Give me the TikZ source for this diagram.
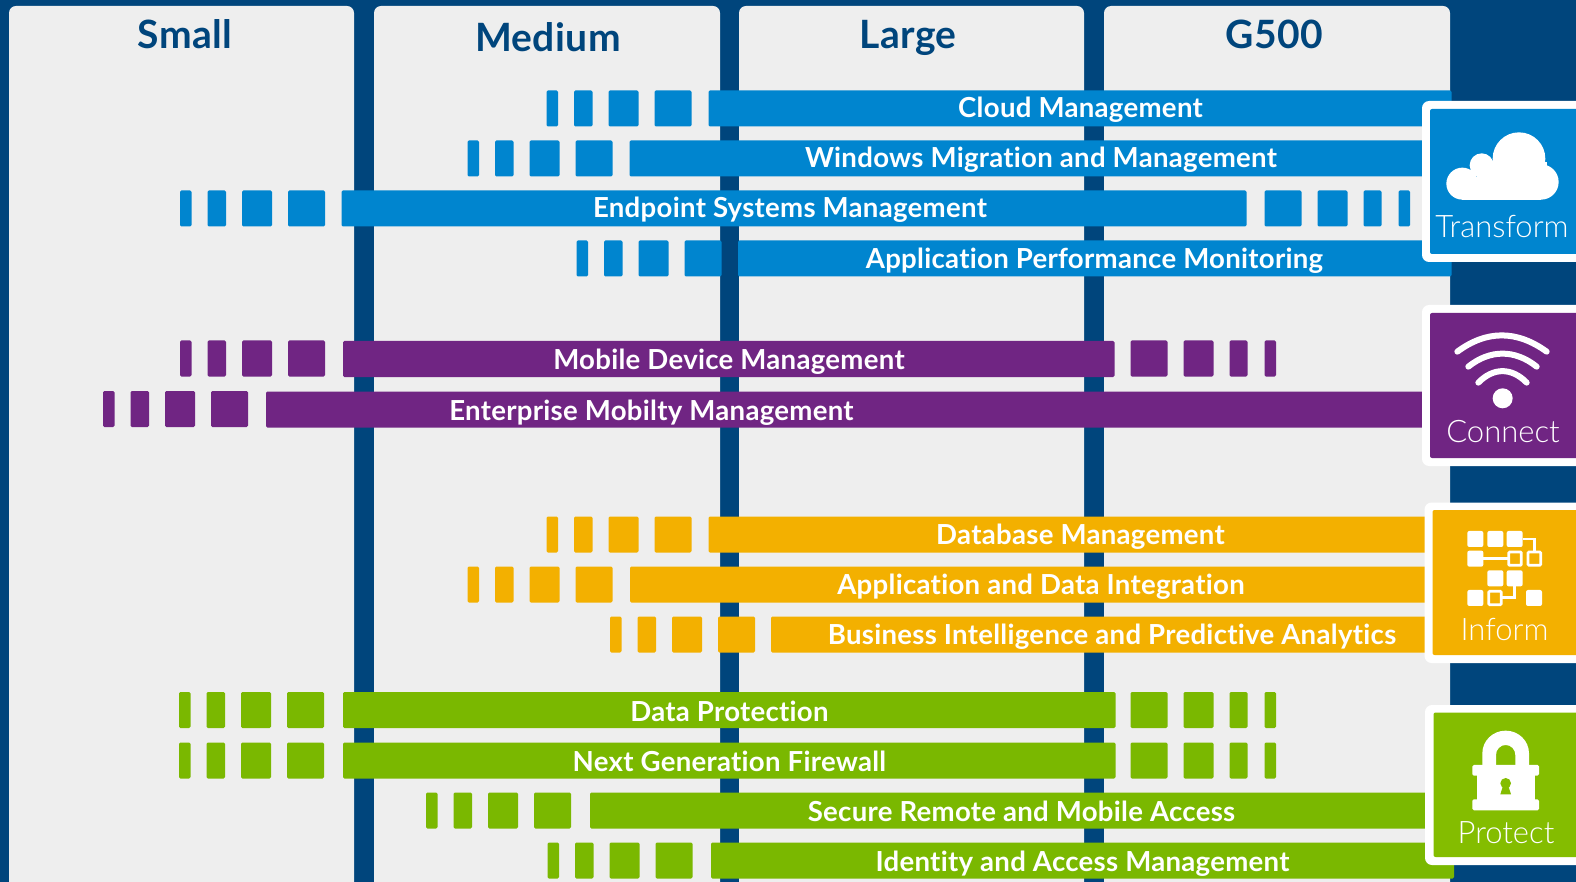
\documentclass[tikz,border=0pt]{standalone}
\usepackage{fontspec}
\setmainfont{Lato}[LetterSpace=1.0,Ligatures=NoCommon]
\newfontfamily\lightfont{Lato Light}
\definecolor{navy}{HTML}{00457C}
\definecolor{panel}{HTML}{EEEEEE}
\definecolor{cblue}{HTML}{0085CF}
\definecolor{cpurple}{HTML}{702583}
\definecolor{cyellow}{HTML}{F3B000}
\definecolor{cgreen}{HTML}{7AB800}
\definecolor{cgreenb}{HTML}{84BD00}
\tikzset{
  panelbox/.style={fill=panel,rounded corners=7pt},
  seg/.style={rounded corners=1.3pt},
  barlabel/.style={anchor=base,text=white,font=\fontsize{27.6}{30}\selectfont\bfseries,inner sep=0pt},
  headlabel/.style={anchor=base,text=navy,font=\fontsize{39}{42}\selectfont\bfseries,inner sep=0pt},
  iconlabel/.style={anchor=base,text=white,font=\fontsize{31}{34}\lightfont,inner sep=0pt},
  whitebox/.style={fill=white,rounded corners=7pt},
  iconbox/.style={rounded corners=2pt},
  wire/.style={draw=white,line width=2.7pt},
  hollow/.style={draw=white,line width=2.7pt,rounded corners=1pt},
  solidsq/.style={fill=white,rounded corners=2pt},
}
% left ladder: start x, top y, colour
\newcommand{\ladderL}[3]{%
  \foreach \a/\b in {0/11.5,27.5/46,62/92,108/145}
    \fill[seg,#3] ({#1+\a},#2) rectangle ({#1+\b},{#2+36});}
% right ladder: start x, top y, colour
\newcommand{\ladderR}[3]{%
  \foreach \a/\b in {0/37,53/83,99/117,134/145.5}
    \fill[seg,#3] ({#1+\a},#2) rectangle ({#1+\b},{#2+36});}
% bar: left, right, top, colour, label centre, label, name, label baseline offset
\newcommand{\barrow}[8]{%
  \fill[seg,#4] (#1,#3) rectangle (#2,{#3+36});
  \node[barlabel] (#7) at (#5,{#3+#8}) {#6};}
\begin{document}
\begin{tikzpicture}[x=1pt,y=-1pt]
\useasboundingbox (0,0) rectangle (1576,882);
\fill[navy] (0,0) rectangle (1576,882);
% panels
\fill[panelbox] (9,6) rectangle (354,920);
\fill[panelbox] (374,6) rectangle (720,920);
\fill[panelbox] (739,6) rectangle (1084,920);
\fill[panelbox] (1104,6) rectangle (1450,920);
\node[headlabel] (small) at (185,48.5) {Small};
\node[headlabel] (medium) at (548,51.5) {Medium};
\node[headlabel] (large) at (908,49) {Large};
\node[headlabel] (gfive) at (1274,48.5) {G500};
% blue
\ladderL{546.5}{90.5}{cblue}
\barrow{708.5}{1451.5}{90.5}{cblue}{1080.5}{Cloud Management}{cloud}{27.5}
\ladderL{467.5}{140.5}{cblue}
\barrow{629.5}{1440}{140.5}{cblue}{1041}{Windows Migration and Management}{windows}{27.5}
\ladderL{180}{190.5}{cblue}
\barrow{341.5}{1246.5}{190.5}{cblue}{790}{Endpoint Systems Management}{endpoint}{27.5}
\ladderR{1264.5}{190.5}{cblue}
\ladderL{576.5}{240.5}{cblue}
\barrow{738}{1451.5}{240.5}{cblue}{1094.5}{Application Performance Monitoring}{apm}{28}
% purple
\ladderL{180}{340.5}{cpurple}
\barrow{343}{1114.5}{341}{cpurple}{729}{Mobile Device Management}{mdm}{28}
\ladderR{1130.5}{340.5}{cpurple}
\ladderL{103}{391}{cpurple}
\barrow{266}{1440}{391.5}{cpurple}{651.5}{Enterprise Mobilty Management}{emm}{28.5}
% yellow
\ladderL{546.5}{516.5}{cyellow}
\barrow{708.5}{1440}{516.5}{cyellow}{1080.5}{Database Management}{db}{27.5}
\ladderL{467.5}{566.5}{cyellow}
\barrow{630}{1440}{566.5}{cyellow}{1041}{Application and Data Integration}{adi}{28}
\ladderL{610}{616.5}{cyellow}
\barrow{771}{1440}{616.5}{cyellow}{1112}{Business Intelligence and Predictive Analytics}{bi}{28}
% green
\ladderL{179}{692}{cgreen}
\barrow{343}{1115.5}{692}{cgreen}{729.5}{Data Protection}{dp}{29}
\ladderR{1130.5}{692}{cgreen}
\ladderL{179}{742.5}{cgreen}
\barrow{343}{1115.5}{742.5}{cgreen}{729.5}{Next Generation Firewall}{ngf}{29}
\ladderR{1130.5}{742.5}{cgreen}
\ladderL{426}{792.5}{cgreen}
\barrow{590}{1440}{792.5}{cgreen}{1021.5}{Secure Remote and Mobile Access}{srm}{29}
\ladderL{547.5}{842.5}{cgreen}
\barrow{711}{1454}{842.5}{cgreen}{1082.5}{Identity and Access Management}{iam}{29}
% icon boxes
\fill[whitebox] (1422,101) rectangle (1600,262);
\fill[iconbox,cblue] (1430,109) rectangle (1600,254);
\node[iconlabel] (transform) at (1502,238) {Transform};
\fill[whitebox] (1422,305) rectangle (1600,466);
\fill[iconbox,cpurple] (1430,313) rectangle (1600,458);
\node[iconlabel] (connect) at (1503,442) {Connect};
\fill[whitebox] (1424.5,502.5) rectangle (1600,663);
\fill[iconbox,cyellow] (1432.5,510) rectangle (1600,655);
\node[iconlabel] (inform) at (1504.5,640) {Inform};
\fill[whitebox] (1425,705) rectangle (1600,865);
\fill[iconbox,cgreenb] (1433.5,712.5) rectangle (1600,857);
\node[iconlabel] (protect) at (1506,843) {Protect};
% cloud icon (zoom coordinates)
\begin{scope}[shift={(1400,80)},x=0.3333pt,y=-0.3333pt]
  \fill[white] (187,311) circle[radius=48];
  \fill[white] (245,256) circle[radius=36];
  \fill[white] (357,236) circle[radius=79];
  \fill[white] (423,306) circle[radius=53];
  \fill[white] (187,290) rectangle (423,359);
  \fill[white] (230,245) rectangle (440,300);
  % wifi
  \draw[white,line width=6pt,line cap=round] (172,815) .. controls (260,750) and (350,750) .. (440,815);
  \draw[white,line width=6pt,line cap=round] (205,860) .. controls (270,808) and (345,808) .. (410,860);
  \draw[white,line width=6pt,line cap=round] (235,908) .. controls (280,862) and (335,862) .. (380,908);
  \fill[white] (308,955) circle[radius=30];
\end{scope}
% inform and lock icons (zoom coordinates)
\begin{scope}[shift={(1400,490)},x=0.3333pt,y=-0.3333pt]
  \foreach \xx/\yy in {202/123,262/123,320/123,202/182,262/241,320/241,202/300,378/300}
    \fill[solidsq] (\xx,\yy) rectangle ({\xx+48},{\yy+48});
  \foreach \xx/\yy in {326/186,384/186,266/304}
    \draw[hollow] (\xx,\yy) rectangle ({\xx+38},{\yy+40});
  \draw[wire] (368,147) -- (403,147) -- (403,186);
  \draw[wire] (250,206) -- (326,206);
  \draw[wire] (344,289) -- (344,323) -- (304,323);
  % lock
  \fill[white] (247,830) -- (247,790) arc[start angle=180,end angle=360,x radius=70,y radius=68] -- (387,830) -- (346,830) -- (346,795) arc[start angle=0,end angle=-180,x radius=29,y radius=30] -- (288,830) -- cycle;
  \fill[white,rounded corners=1.5pt] (217,825) rectangle (417,857);
  \fill[white] (230,850) rectangle (405,935);
  \fill[white,rounded corners=1.5pt] (217,928) rectangle (417,961);
  \fill[cgreenb] (317,880) circle[radius=16];
  \fill[cgreenb] (310,885) -- (324,885) -- (333,913) -- (301,913) -- cycle;
\end{scope}
\end{tikzpicture}
\end{document}
